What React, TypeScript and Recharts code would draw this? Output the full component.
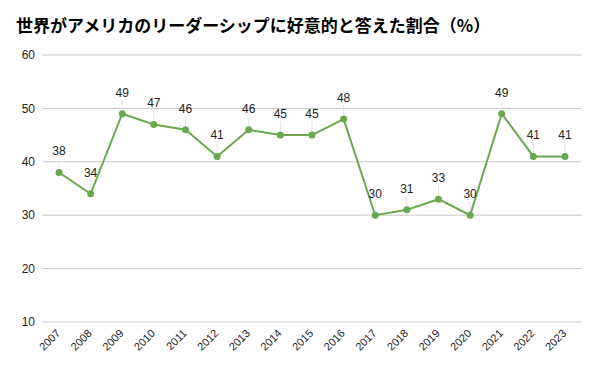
import { LineChart, Line, XAxis, YAxis, CartesianGrid, LabelList } from 'recharts';

const years = ['2007', '2008', '2009', '2010', '2011', '2012', '2013', '2014', '2015', '2016', '2017', '2018', '2019', '2020', '2021', '2022', '2023'];
const approval = [38, 34, 49, 47, 46, 41, 46, 45, 45, 48, 30, 31, 33, 30, 49, 41, 41];
const yTicks = [10, 20, 30, 40, 50, 60];

const LINE_COLOR = '#6aa84f';
const FONT = '"Liberation Sans", Arial, sans-serif';

const data = years.map((year, i) => ({ year, value: approval[i] }));

function ValueLabel(props: any) {
  const { x, y, value } = props;
  return (
    <g>
      <line x1={x} y1={y - 4} x2={x} y2={y - 14} stroke="#e3e3e3" strokeWidth={1} />
      <text x={x} y={y - 17} textAnchor="middle" fontSize={12} fill="#222" fontFamily={FONT}>
        {value}
      </text>
    </g>
  );
}

function YearTick(props: any) {
  const { x, y, payload } = props;
  const tx = x + 2;
  const ty = y + 4;
  return (
    <text
      x={tx}
      y={ty}
      textAnchor="end"
      fontSize={11}
      fill="#222"
      fontFamily={FONT}
      transform={`rotate(-45, ${tx}, ${ty})`}
    >
      {payload.value}
    </text>
  );
}

export default function App() {
  return (
    <div style={{ position: 'fixed', left: 0, top: 0, width: 597, height: 368, background: '#fff' }}>
      <div
        style={{
          position: 'absolute',
          left: 16,
          top: 13,
          fontSize: 17,
          fontWeight: 'bold',
          color: '#000',
          fontFamily: '"Noto Sans CJK JP", sans-serif',
          lineHeight: '24px',
          whiteSpace: 'nowrap',
        }}
      >
        世界がアメリカのリーダーシップに好意的と答えた割合（%）
      </div>
      <LineChart width={597} height={368} data={data} margin={{ top: 55, right: 16, bottom: 6, left: 0 }}>
        <CartesianGrid vertical={false} stroke="#c8c8c8" />
        <XAxis
          dataKey="year"
          axisLine={false}
          tickLine={false}
          interval={0}
          height={40}
          padding={{ left: 16, right: 16 }}
          tick={<YearTick />}
        />
        <YAxis
          domain={[10, 60]}
          ticks={yTicks}
          width={43}
          axisLine={false}
          tickLine={false}
          tick={{ fontSize: 12, fill: '#222', fontFamily: FONT }}
        />
        <Line
          type="linear"
          dataKey="value"
          stroke={LINE_COLOR}
          strokeWidth={2}
          dot={{ r: 3.5, fill: LINE_COLOR, stroke: LINE_COLOR, strokeWidth: 0 }}
          isAnimationActive={false}
        >
          <LabelList dataKey="value" content={<ValueLabel />} />
        </Line>
      </LineChart>
    </div>
  );
}
